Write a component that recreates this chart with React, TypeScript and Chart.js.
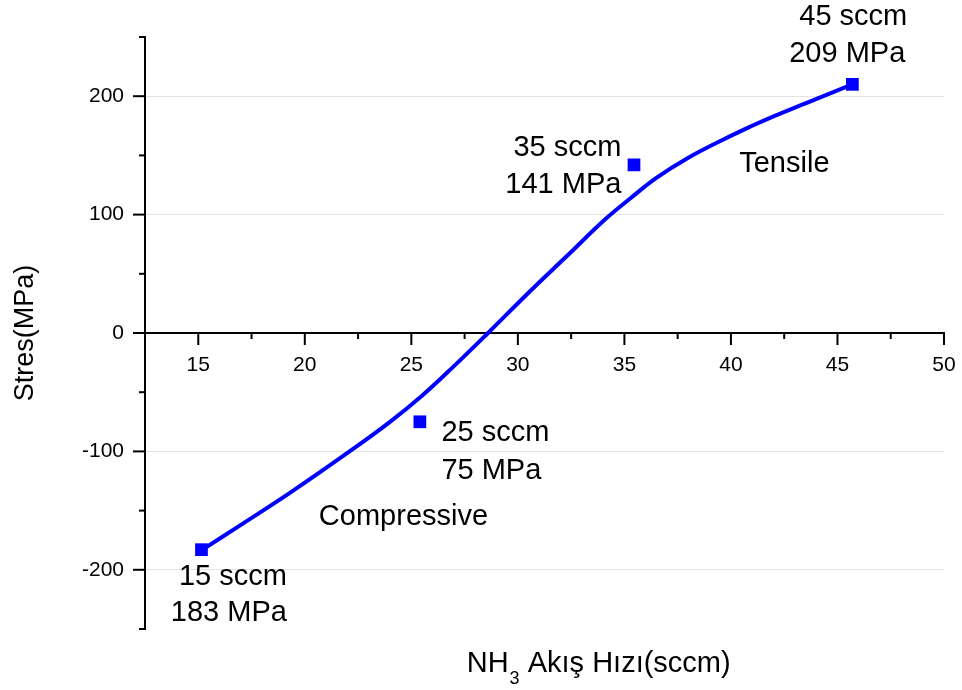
import React, { useEffect, useRef } from 'react';
import { Chart, registerables } from 'chart.js';

Chart.register(...registerables);

// Fitted curve (sccm, MPa)
const fitFlow = [15.2, 17.0, 19.3, 22.1, 24.0, 25.5, 27.0, 28.6, 30.5, 32.3, 34.1, 35.3, 36.5, 38.0, 39.6, 41.0, 42.0, 43.5, 45.7];
const fitStress = [-183, -162, -135, -100, -75, -53, -28, 0, 34, 65, 96, 114, 131, 148, 163, 175, 183, 194, 210];

// Measured points
const measuredFlow = [15.15, 25.4, 35.45, 45.7];
const measuredStress = [-183, -75, 142, 210];

// Ticks
const xTicks = [12.5, 15, 17.5, 20, 22.5, 25, 27.5, 30, 32.5, 35, 37.5, 40, 42.5, 45, 47.5, 50];
const xTickLabels = ['', '15', '', '20', '', '25', '', '30', '', '35', '', '40', '', '45', '', '50'];
const yTicks = [-250, -200, -150, -100, -50, 0, 50, 100, 150, 200, 250];
const yTickLabels = ['', '-200', '', '-100', '', '0', '', '100', '', '200', ''];

// Annotations (text, anchor in data units, alignment)
const noteTexts = ['45 sccm', '209 MPa', '35 sccm', '141 MPa', '25 sccm', '75 MPa', '15 sccm', '183 MPa', 'Compressive', 'Tensile'];
const noteX = [45.74, 45.46, 34.86, 34.86, 26.41, 26.41, 19.16, 19.16, 20.66, 40.39];
const noteY = [266.7, 236, 156.6, 125.4, -84.3, -116.4, -206.4, -236.4, -155.7, 143.1];
const noteAlign: CanvasTextAlign[] = ['center', 'center', 'right', 'right', 'left', 'left', 'right', 'right', 'left', 'left'];

const xTitleMain = 'NH';
const xTitleSub = '3';
const xTitleRest = ' Akış Hızı(sccm)';
const xTitleAnchor = 27.6;
const yTitle = 'Stres(MPa)';

const FONT = "'Liberation Sans', Arial, sans-serif";
const BLUE = '#0000ff';

const overlayPlugin = {
  id: 'overlay',
  afterDraw(chart: any) {
    const { ctx, chartArea } = chart;
    const xs = chart.scales.x;
    const ys = chart.scales.y;
    ctx.save();
    ctx.strokeStyle = '#000';
    ctx.lineWidth = 2;
    const y0 = ys.getPixelForValue(0);
    xs.ticks.forEach((t: any) => {
      const px = xs.getPixelForValue(t.value);
      const len = xTickLabels[xTicks.indexOf(t.value)] ? 12 : 6;
      ctx.beginPath();
      ctx.moveTo(px, y0);
      ctx.lineTo(px, y0 + len);
      ctx.stroke();
    });
    ys.ticks.forEach((t: any) => {
      const py = ys.getPixelForValue(t.value);
      const len = yTickLabels[yTicks.indexOf(t.value)] ? 12 : 6;
      ctx.beginPath();
      ctx.moveTo(chartArea.left - len, py);
      ctx.lineTo(chartArea.left, py);
      ctx.stroke();
    });

    ctx.fillStyle = '#000';
    ctx.font = `29px ${FONT}`;
    ctx.textBaseline = 'middle';
    noteTexts.forEach((txt, i) => {
      ctx.textAlign = noteAlign[i];
      ctx.fillText(txt, xs.getPixelForValue(noteX[i]), ys.getPixelForValue(noteY[i]));
    });

    // x-axis title with subscript
    ctx.textAlign = 'left';
    ctx.textBaseline = 'alphabetic';
    let tx = xs.getPixelForValue(xTitleAnchor);
    const base = chartArea.bottom + 43;
    ctx.font = `29px ${FONT}`;
    ctx.fillText(xTitleMain, tx, base);
    tx += ctx.measureText(xTitleMain).width + 1;
    ctx.font = `18px ${FONT}`;
    ctx.fillText(xTitleSub, tx, base + 12);
    tx += ctx.measureText(xTitleSub).width;
    ctx.font = `29px ${FONT}`;
    ctx.fillText(xTitleRest, tx, base);
    ctx.restore();
  },
};

export default function App() {
  const canvasRef = useRef<HTMLCanvasElement>(null);

  useEffect(() => {
    document.body.style.margin = '0';
    const canvas = canvasRef.current;
    if (!canvas) return;
    const chart = new Chart(canvas, {
      type: 'scatter',
      data: {
        datasets: [
          {
            type: 'line',
            data: fitFlow.map((x, i) => ({ x, y: fitStress[i] })),
            borderColor: BLUE,
            borderWidth: 4,
            pointRadius: 0,
            tension: 0.4,
            fill: false,
          } as any,
          {
            type: 'scatter',
            data: measuredFlow.map((x, i) => ({ x, y: measuredStress[i] })),
            pointStyle: 'rect',
            pointRadius: 9,
            backgroundColor: BLUE,
            borderWidth: 0,
          } as any,
        ],
      },
      options: {
        responsive: false,
        animation: false,
        layout: { padding: { left: 0, top: 37, right: 18, bottom: 61 } },
        plugins: { legend: { display: false }, tooltip: { enabled: false } },
        scales: {
          x: {
            type: 'linear',
            position: { y: 0 } as any,
            min: 12.5,
            max: 50,
            afterBuildTicks: (s: any) => {
              s.ticks = xTicks.map((v) => ({ value: v }));
            },
            afterFit: (s: any) => {
              s.paddingLeft = 0;
              s.paddingRight = 0;
            },
            ticks: {
              autoSkip: false,
              maxRotation: 0,
              padding: 20,
              color: '#000',
              font: { family: FONT, size: 21 },
              callback: (v: any) => xTickLabels[xTicks.indexOf(Number(v))] ?? '',
            },
            grid: { color: 'rgba(0,0,0,0)', drawTicks: false },
            border: { display: true, color: '#000', width: 2 },
          },
          y: {
            type: 'linear',
            min: -250,
            max: 250,
            afterBuildTicks: (s: any) => {
              s.ticks = yTicks.map((v) => ({ value: v }));
            },
            afterFit: (s: any) => {
              s.width = 145;
              s.paddingTop = 0;
              s.paddingBottom = 0;
            },
            ticks: {
              autoSkip: false,
              padding: 21,
              color: '#000',
              font: { family: FONT, size: 21 },
              callback: (v: any) => yTickLabels[yTicks.indexOf(Number(v))] ?? '',
            },
            grid: {
              drawTicks: false,
              lineWidth: 1,
              color: (c: any) => {
                const v = c.tick ? c.tick.value : NaN;
                return v % 100 === 0 && v !== 0 && Math.abs(v) < 250 ? '#e2e2e2' : 'rgba(0,0,0,0)';
              },
            },
            border: { display: true, color: '#000', width: 2 },
            title: {
              display: true,
              text: yTitle,
              color: '#000',
              font: { family: FONT, size: 27 },
              padding: { top: 9, bottom: 0 },
            },
          },
        },
      },
      plugins: [overlayPlugin],
    });
    return () => chart.destroy();
  }, []);

  return (
    <div style={{ width: 962, height: 690, background: '#fff' }}>
      <canvas ref={canvasRef} width={962} height={690} style={{ display: 'block' }} />
    </div>
  );
}
